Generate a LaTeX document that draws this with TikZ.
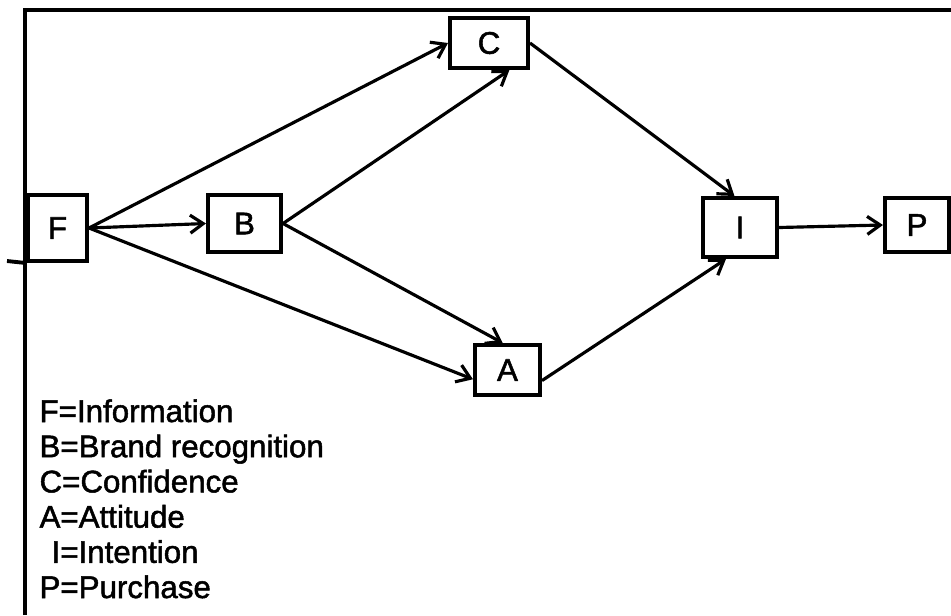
\documentclass[tikz,border=0pt]{standalone}
\usepackage{fontspec}
\setmainfont{Liberation Sans}[BoldFont={Liberation Sans}, BoldFeatures={FakeBold=1.6}]
\usetikzlibrary{arrows.meta}
\tikzset{
  box/.style={draw, line width=2.3pt, inner sep=0pt, font=\fontsize{17.8}{20}\selectfont\bfseries},
  legend/.style={anchor=base west, inner sep=0pt, font=\fontsize{17.8}{20}\selectfont\bfseries},
}
\begin{document}
\begin{tikzpicture}[x=0.2mm, y=-0.2mm, >={Straight Barb[length=2.6mm,width=3.6mm]}, line width=1.8pt]
    \useasboundingbox (0,0) rectangle (951,615);

    % frame
    \draw[line width=2.2pt] (25,615) -- (25,10) -- (951,10);

    \node[box, minimum width=11.8mm, minimum height=13.2mm] (F) at (57.5,228) {F};
    \node[box, minimum width=14.6mm, minimum height=11.4mm] (B) at (244.5,223.5) {B};
    \node[box, minimum width=15.6mm, minimum height=10mm] (C) at (489,43) {C};
    \node[box, minimum width=13mm, minimum height=10mm] (A) at (507.5,370) {A};
    \node[box, minimum width=14.8mm, minimum height=11.8mm] (I) at (740,227.5) {I};
    \node[box, minimum width=12.8mm, minimum height=10.8mm] (P) at (917,225) {P};

    \coordinate (tick) at (7,261);
    \draw[line width=2.2pt] (tick) -- (F.south west);

    \draw[->] (F.east) -- (C.west);
    \draw[->] (F.east) -- (B.west);
    \draw[->] (F.east) -- (A.195);
    \draw[->] (B.east) -- (C.-53);
    \draw[->] (B.east) -- (A.100);
    \draw[->] (C.east) -- (I.100);
    \draw[->] (A.-17) -- (I.-114);
    \draw[->] (I.east) -- (P.west);

    % legend
    \node[legend] (legF) at (38,422) {F=Information};
    \node[legend] (legB) at (38,457.2) {B=Brand recognition};
    \node[legend] (legC) at (38,492.4) {C=Confidence};
    \node[legend] (legA) at (38,527.6) {A=Attitude};
    \node[legend] (legI) at (38,562.8) {\hspace{2.4mm}I=Intention};
    \node[legend] (legP) at (38,598) {P=Purchase};
\end{tikzpicture}
\end{document}
